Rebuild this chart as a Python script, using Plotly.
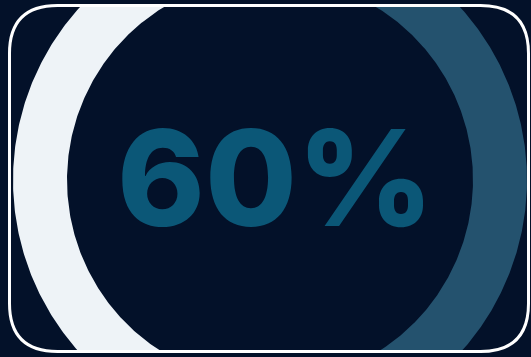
import numpy as np
import plotly.graph_objects as go

# ---- data ----
labels = ["Achieved", "Remaining"]
values = [60, 40]
slice_colors = ["#eef3f7", "#24526e"]
center_label = "60%"

# ---- geometry (pixels) ----
W, H = 531, 357
CX, CY = 270, 180
R_OUT, R_IN = 257, 203
TOP, BOTTOM = 7, 350  # ring clipped to the card interior

BG = "#031129"

fig = go.Figure()

total = float(sum(values))
# first slice centred on the left (180 deg), drawn clockwise from its upper end
start = 180.0 + 0.5 * values[0] / total * 360.0
ang = start
for lab, val, col in zip(labels, values, slice_colors):
    sweep = val / total * 360.0
    th = np.radians(np.linspace(ang, ang - sweep, 400))
    xo = CX + R_OUT * np.cos(th)
    yo = CY - R_OUT * np.sin(th)
    xi = CX + R_IN * np.cos(th[::-1])
    yi = CY - R_IN * np.sin(th[::-1])
    xs = np.concatenate([xo, xi, xo[:1]])
    ys = np.concatenate([yo, yi, yo[:1]])
    fig.add_trace(go.Scatter(x=xs, y=ys, mode="lines", fill="toself",
                             fillcolor=col, line=dict(width=0, color=col),
                             name=lab, hoverinfo="name", showlegend=False))
    ang -= sweep

fig.add_annotation(x=CX + 5, y=CY - 3, xref="x", yref="y", text=center_label,
                   showarrow=False,
                   font=dict(family="Inter", size=133, color="#0b5777", weight=800))

# rounded card border in paper coordinates
def px(x):
    return x / W

def py(y):
    return (BOTTOM - y) / (BOTTOM - TOP)

L, R, T, B, RAD = 9.5, 528.5, 5.5, 351.5, 48
path = (f"M {px(L+RAD)},{py(T)} L {px(R-RAD)},{py(T)} "
        f"Q {px(R)},{py(T)} {px(R)},{py(T+RAD)} "
        f"L {px(R)},{py(B-RAD)} Q {px(R)},{py(B)} {px(R-RAD)},{py(B)} "
        f"L {px(L+RAD)},{py(B)} Q {px(L)},{py(B)} {px(L)},{py(B-RAD)} "
        f"L {px(L)},{py(T+RAD)} Q {px(L)},{py(T)} {px(L+RAD)},{py(T)} Z")
fig.add_shape(type="path", path=path, xref="paper", yref="paper",
              line=dict(color="#ffffff", width=3), layer="above")

fig.update_layout(
    width=W, height=H,
    margin=dict(l=0, r=0, t=TOP, b=H - BOTTOM, pad=0),
    paper_bgcolor=BG, plot_bgcolor=BG,
    xaxis=dict(range=[0, W], visible=False, fixedrange=True),
    yaxis=dict(range=[BOTTOM, TOP], visible=False, fixedrange=True),
    showlegend=False,
)

fig.write_html("out.html")
